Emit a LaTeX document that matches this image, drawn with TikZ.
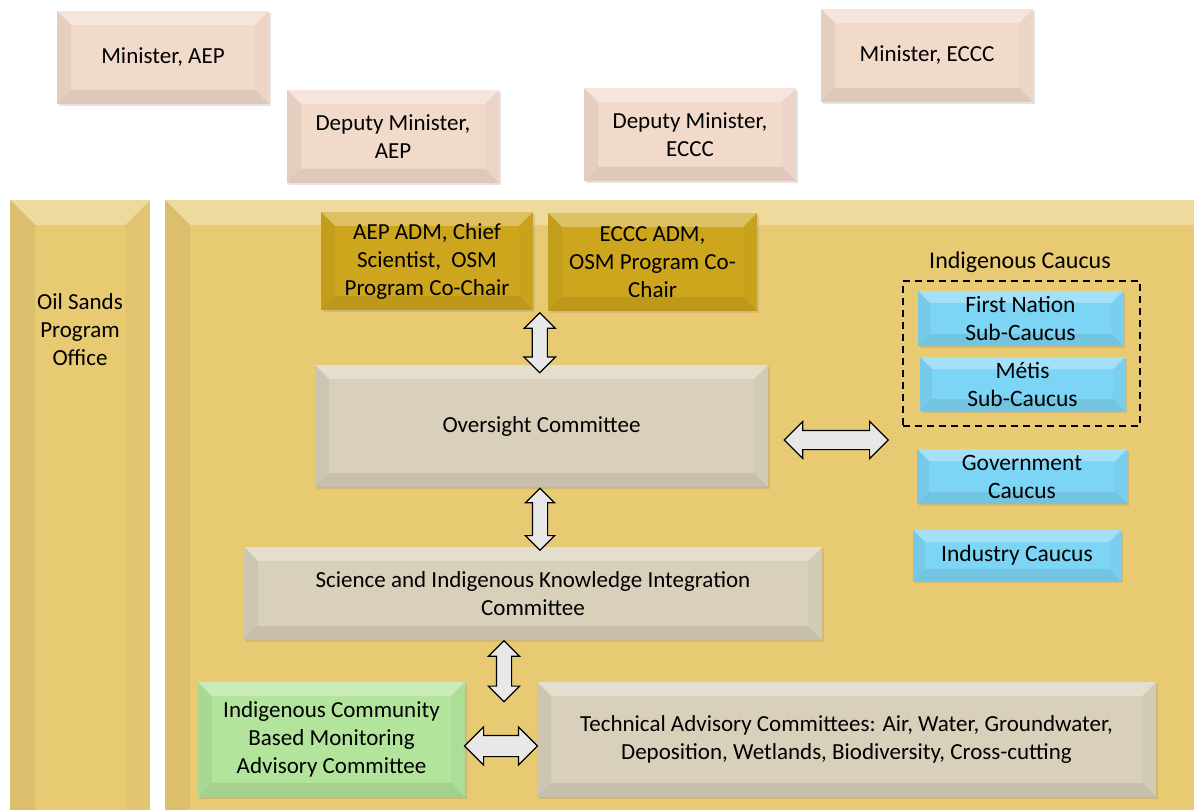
\documentclass[tikz,border=0pt]{standalone}
\usepackage{fontspec}
\setmainfont{Carlito}
\usetikzlibrary{shapes.arrows,shadows,calc}
\definecolor{pinkc}{RGB}{242,218,203}
\definecolor{panelc}{RGB}{232,202,115}
\definecolor{goldc}{RGB}{206,166,30}
\definecolor{tanc}{RGB}{216,208,186}
\definecolor{bluec}{RGB}{125,213,245}
\definecolor{greenc}{RGB}{178,228,155}
\definecolor{arrowc}{RGB}{232,232,232}
\tikzset{
  bevel/.style={path picture={
    \fill[white,opacity=0.3] (path picture bounding box.north west) -- (path picture bounding box.north east)
      -- ([shift={(-#1,#1)}]path picture bounding box.north east) -- ([shift={(#1,#1)}]path picture bounding box.north west) -- cycle;
    \fill[black,opacity=0.05] (path picture bounding box.north west) -- ([shift={(#1,#1)}]path picture bounding box.north west)
      -- ([shift={(#1,-#1)}]path picture bounding box.south west) -- (path picture bounding box.south west) -- cycle;
    \fill[black,opacity=0.025] (path picture bounding box.north east) -- ([shift={(-#1,#1)}]path picture bounding box.north east)
      -- ([shift={(-#1,-#1)}]path picture bounding box.south east) -- (path picture bounding box.south east) -- cycle;
    \fill[black,opacity=0.08] (path picture bounding box.south west) -- ([shift={(#1,-#1)}]path picture bounding box.south west)
      -- ([shift={(-#1,-#1)}]path picture bounding box.south east) -- (path picture bounding box.south east) -- cycle;
  }},
  box/.style={rectangle, inner sep=0pt, align=center, font=\fontsize{23}{28}\selectfont,
    drop shadow={opacity=0.22, shadow xshift=2pt, shadow yshift=-2pt}, bevel=#1},
  box/.default=14,
  pinkbox/.style={box, fill=pinkc, minimum width=212pt, minimum height=93pt},
  goldbox/.style={box, fill=goldc, minimum height=98pt},
  tanbox/.style={box, fill=tanc},
  bluebox/.style={box=12, fill=bluec, font=\fontsize{23.5}{28}\selectfont},
  panel/.style={rectangle, inner sep=0pt, fill=panelc, bevel=25},
  dbl/.style={double arrow, draw=black, line width=1.2pt, fill=arrowc, inner xsep=0pt,
    double arrow head extend=8pt, double arrow tip angle=90},
  lbl/.style={font=\fontsize{23}{28}\selectfont, align=center, inner sep=0pt},
}
\begin{document}
\begin{tikzpicture}[x=1pt,y=-1pt]
\useasboundingbox (0,0) rectangle (1194,810);
\fill[white] (0,0) rectangle (1194,810);
% top ministers
\node[pinkbox] (minaep) at (163,57.5) {Minister, AEP};
\node[pinkbox] (dmaep) at (393,136.5) {Deputy Minister,\\AEP};
\node[pinkbox] (dmeccc) at (690,134.5) {Deputy Minister,\\ECCC};
\node[pinkbox] (mineccc) at (927,55.5) {Minister, ECCC};
% panels
\node[panel, minimum width=140pt, minimum height=660pt] (ospo) at (80,530) {};
\node[lbl] (ospotext) at (80,330) {Oil Sands\\Program\\Office};
\node[panel, minimum width=1060pt, minimum height=660pt] (main) at (695,530) {};
% ADM boxes
\node[goldbox, minimum width=212pt] (adm1) at (427,261) {AEP ADM, Chief\\Scientist,\ \ OSM\\Program Co-Chair};
\node[goldbox, minimum width=209pt] (adm2) at (652.5,262) {ECCC ADM,\\OSM Program Co-\\Chair};
% committees
\node[tanbox, minimum width=453pt, minimum height=122pt] (over) at (541.5,426) {Oversight Committee};
\node[tanbox, minimum width=578pt, minimum height=93pt] (sci) at (533,593.5) {Science and Indigenous Knowledge Integration\\Committee};
\node[box, fill=greenc, minimum width=267pt, minimum height=115pt] (icbm) at (331.5,739.5) {Indigenous Community\\Based Monitoring\\Advisory Committee};
\node[tanbox, minimum width=619pt, minimum height=115pt] (tac) at (846.5,739.5) {Technical Advisory Committees: Air, Water, Groundwater,\\Deposition, Wetlands, Biodiversity, Cross-cutting};
% caucuses
\node[lbl, font=\fontsize{24}{28}\selectfont] (indlbl) at (1020,262) {Indigenous Caucus};
\node[draw=black, line width=1.8pt, dash pattern=on 7pt off 5pt, minimum width=237pt, minimum height=145pt, inner sep=0pt] (indbox) at (1021.5,353.5) {};
\node[bluebox, minimum width=205pt, minimum height=55pt] (fn) at (1020.5,318.5) {First Nation\\Sub-Caucus};
\node[bluebox, minimum width=205pt, minimum height=54pt] (metis) at (1022.5,384) {Métis\\Sub-Caucus};
\node[bluebox, minimum width=210pt, minimum height=55pt] (gov) at (1022,476.5) {Government\\Caucus};
\node[bluebox, minimum width=208pt, minimum height=51pt] (ind) at (1017,555.5) {Industry Caucus};
% arrows
\node[dbl, rotate=90, minimum height=60pt, inner ysep=7pt] (a1) at ($(adm1.south)!0.5!(adm2.south) + (0,32)$) {};
\node[dbl, minimum height=104pt, inner ysep=9pt, double arrow head extend=9pt] (a2) at ($(over.east |- 0,440) + (68,0)$) {};
\node[dbl, rotate=90, minimum height=62pt, inner ysep=7pt, double arrow head extend=7pt] (a3) at ($(over.south -| 540,0) + (0,32)$) {};
\node[dbl, rotate=90, minimum height=61pt, inner ysep=7pt] (a4) at ($(sci.south -| 504,0) + (0,31)$) {};
\node[dbl, minimum height=73pt, inner ysep=10pt, double arrow head extend=8.5pt] (a5) at ($(icbm.east)!0.5!(tac.west) + (0,6.5)$) {};
\end{tikzpicture}
\end{document}
